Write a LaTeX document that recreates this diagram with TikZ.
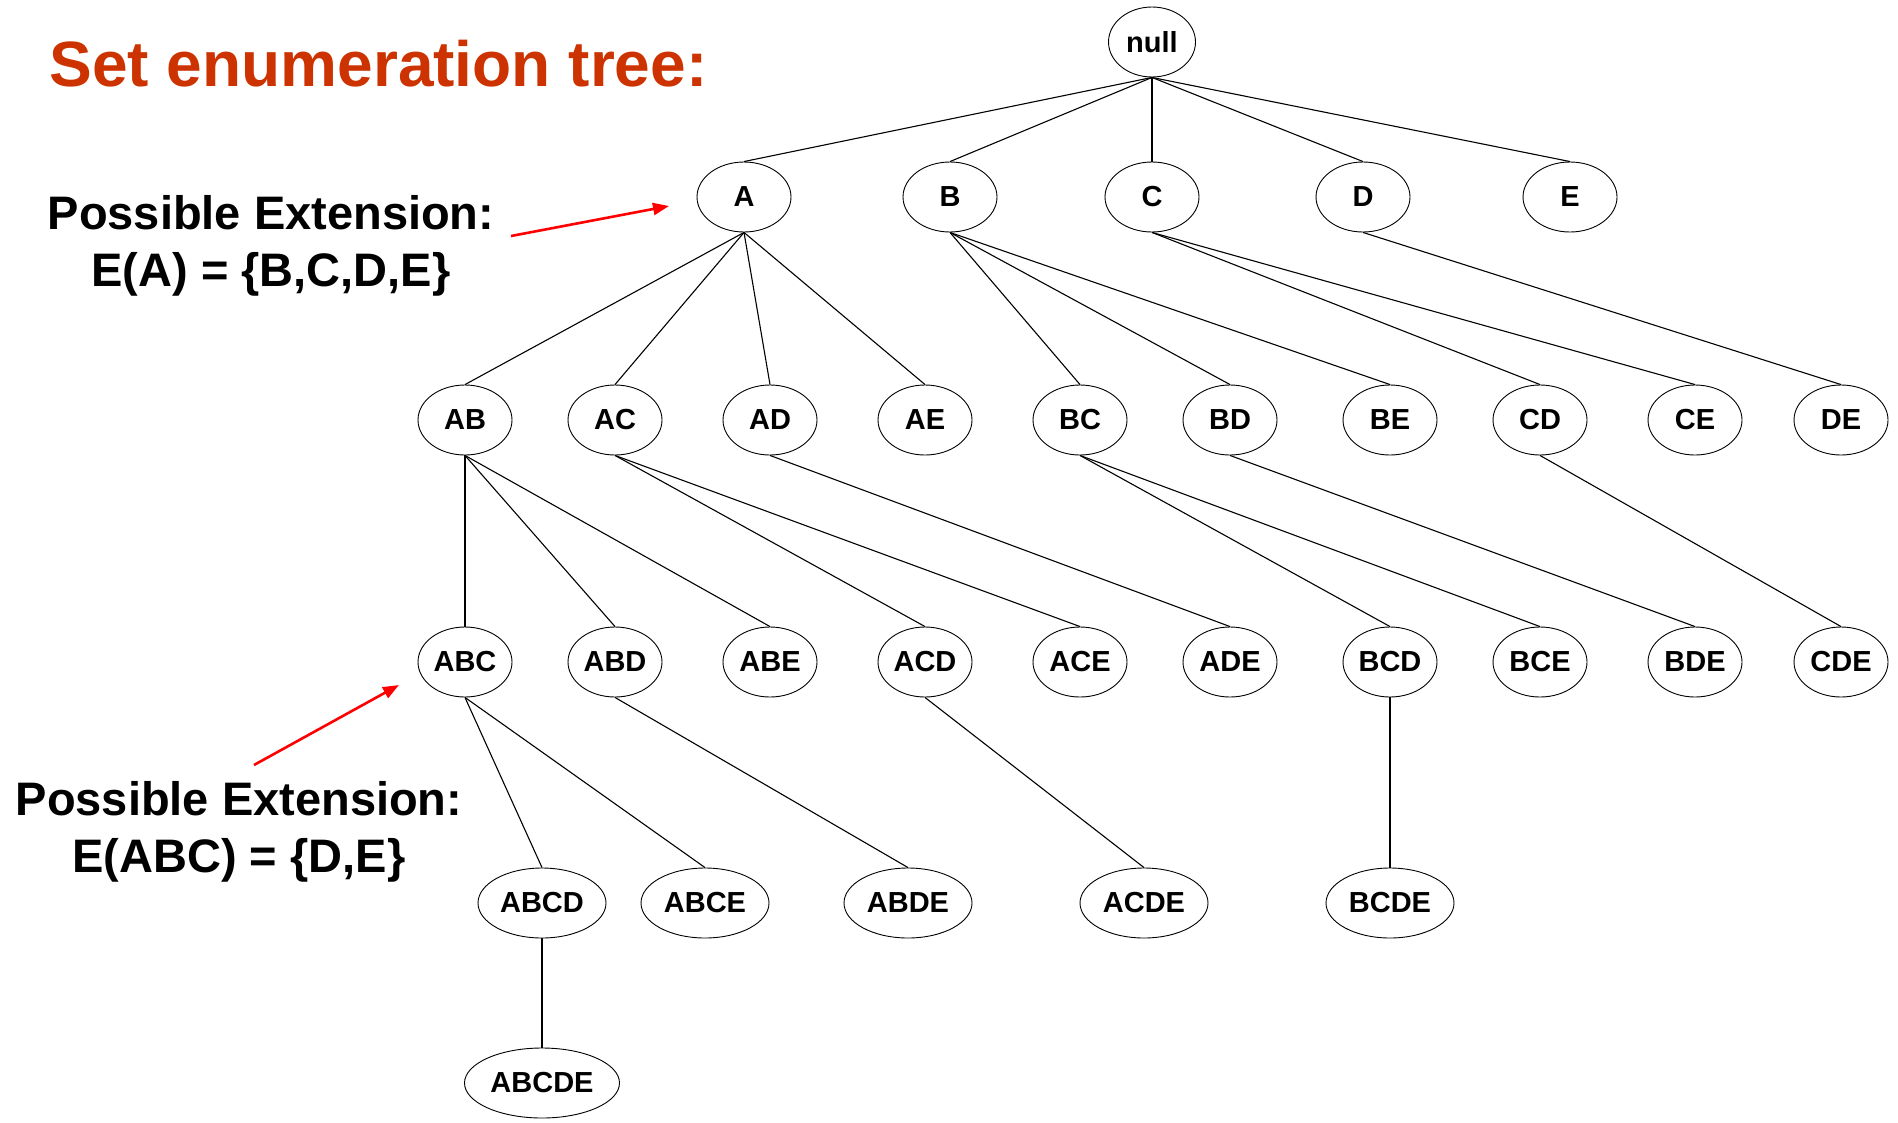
\documentclass[tikz,border=0pt]{standalone}
\usepackage{fontspec}
\setmainfont{Liberation Sans}
\usetikzlibrary{shapes.geometric,arrows.meta}
\definecolor{titlered}{HTML}{CC3300}

\begin{document}
\begin{tikzpicture}[
    x=1pt, y=-1pt,
    set/.style={draw, ellipse, line width=0.9pt, inner sep=0pt, minimum width=94pt, minimum height=70pt, font=\fontsize{29}{31}\selectfont\bfseries},
    wide/.style={set, minimum width=128pt},
    wider/.style={set, minimum width=155pt},
    edge/.style={line width=1.1pt},
    hint/.style={font=\fontsize{47}{57}\selectfont\bfseries, align=center},
    pointer/.style={-{Triangle[length=16pt, width=12pt]}, red, line width=2.6pt}
]
    \useasboundingbox (0,0) rectangle (1898,1122);

    % Title
    \node[anchor=west, text=titlered, font=\fontsize{64}{70}\selectfont\bfseries] (title) at (46,64) {Set enumeration tree:};

    % Root
    \node[set, minimum width=87pt] (null) at (1152,42) {null};

    % One item
    \node[set] (a) at (744,197) {A};
    \node[set] (b) at (950,197) {B};
    \node[set] (c) at (1152,197) {C};
    \node[set] (d) at (1363,197) {D};
    \node[set] (e) at (1570,197) {E};

    % Two items
    \node[set] (ab) at (465,420) {AB};
    \node[set] (ac) at (615,420) {AC};
    \node[set] (ad) at (770,420) {AD};
    \node[set] (ae) at (925,420) {AE};
    \node[set] (bc) at (1080,420) {BC};
    \node[set] (bd) at (1230,420) {BD};
    \node[set] (be) at (1390,420) {BE};
    \node[set] (cd) at (1540,420) {CD};
    \node[set] (ce) at (1695,420) {CE};
    \node[set] (de) at (1841,420) {DE};

    % Three items
    \node[set] (abc) at (465,662) {ABC};
    \node[set] (abd) at (615,662) {ABD};
    \node[set] (abe) at (770,662) {ABE};
    \node[set] (acd) at (925,662) {ACD};
    \node[set] (ace) at (1080,662) {ACE};
    \node[set] (ade) at (1230,662) {ADE};
    \node[set] (bcd) at (1390,662) {BCD};
    \node[set] (bce) at (1540,662) {BCE};
    \node[set] (bde) at (1695,662) {BDE};
    \node[set] (cde) at (1841,662) {CDE};

    % Four and five items
    \node[wide] (abcd) at (542,903) {ABCD};
    \node[wide] (abce) at (705,903) {ABCE};
    \node[wide] (abde) at (908,903) {ABDE};
    \node[wide] (acde) at (1144,903) {ACDE};
    \node[wide] (bcde) at (1390,903) {BCDE};
    \node[wider] (abcde) at (542,1083) {ABCDE};

    % Edges
    \draw[edge] (null.south) -- (a.north);
    \draw[edge] (null.south) -- (b.north);
    \draw[edge] (null.south) -- (c.north);
    \draw[edge] (null.south) -- (d.north);
    \draw[edge] (null.south) -- (e.north);
    \draw[edge] (a.south) -- (ab.north);
    \draw[edge] (a.south) -- (ac.north);
    \draw[edge] (a.south) -- (ad.north);
    \draw[edge] (a.south) -- (ae.north);
    \draw[edge] (b.south) -- (bc.north);
    \draw[edge] (b.south) -- (bd.north);
    \draw[edge] (b.south) -- (be.north);
    \draw[edge] (c.south) -- (cd.north);
    \draw[edge] (c.south) -- (ce.north);
    \draw[edge] (d.south) -- (de.north);
    \draw[edge] (ab.south) -- (abc.north);
    \draw[edge] (ab.south) -- (abd.north);
    \draw[edge] (ab.south) -- (abe.north);
    \draw[edge] (ac.south) -- (acd.north);
    \draw[edge] (ac.south) -- (ace.north);
    \draw[edge] (ad.south) -- (ade.north);
    \draw[edge] (bc.south) -- (bcd.north);
    \draw[edge] (bc.south) -- (bce.north);
    \draw[edge] (bd.south) -- (bde.north);
    \draw[edge] (cd.south) -- (cde.north);
    \draw[edge] (abc.south) -- (abcd.north);
    \draw[edge] (abc.south) -- (abce.north);
    \draw[edge] (abd.south) -- (abde.north);
    \draw[edge] (acd.south) -- (acde.north);
    \draw[edge] (bcd.south) -- (bcde.north);
    \draw[edge] (abcd.south) -- (abcde.north);

    % Extension notes
    \node[hint] (extA) at (271,246) {Possible Extension:\\E(A) = \{B,C,D,E\}};
    \node[hint] (extABC) at (239,832) {Possible Extension:\\E(ABC) = \{D,E\}};
    \coordinate (tipA) at (669,206);
    \coordinate (tipABC) at (399,685);
    \draw[pointer] (511,236) -- (tipA);
    \draw[pointer] (254,765) -- (tipABC);
\end{tikzpicture}
\end{document}
